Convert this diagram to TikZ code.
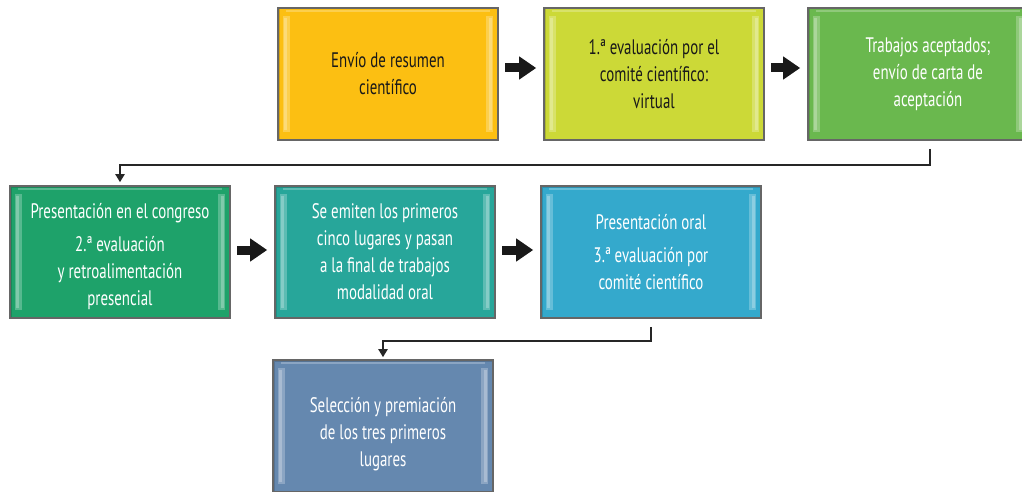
\documentclass[tikz,border=0pt]{standalone}
\usepackage{fontspec}
\setmainfont{PT Sans}[FakeStretch=0.71]
\usepackage{tikz}
\usetikzlibrary{arrows.meta}
\definecolor{amber}{HTML}{FCBF12}
\definecolor{lime}{HTML}{CCD937}
\definecolor{leaf}{HTML}{6AB84E}
\definecolor{jade}{HTML}{1EA26A}
\definecolor{teal}{HTML}{27A69A}
\definecolor{sky}{HTML}{34A9CC}
\definecolor{steel}{HTML}{6588AF}
\tikzset{
  stage/.style={draw=black!60, line width=0.8pt, minimum width=110pt, minimum height=66pt,
    inner sep=0pt, align=center, font=\fontsize{10.5}{13.5}\selectfont,
    path picture={
      \fill[white, opacity=0.25] ([xshift=2.5pt,yshift=-4pt]path picture bounding box.north west)
        rectangle ([xshift=6pt,yshift=4pt]path picture bounding box.south west);
      \fill[white, opacity=0.25] ([xshift=3pt,yshift=-5pt]path picture bounding box.north west)
        rectangle ([xshift=4.5pt,yshift=5pt]path picture bounding box.south west);
      \fill[white, opacity=0.25] ([xshift=-2.5pt,yshift=-4pt]path picture bounding box.north east)
        rectangle ([xshift=-6pt,yshift=4pt]path picture bounding box.south east);
      \fill[white, opacity=0.25] ([xshift=-3pt,yshift=-5pt]path picture bounding box.north east)
        rectangle ([xshift=-4.5pt,yshift=5pt]path picture bounding box.south east);
      \draw[white, opacity=0.25, line width=1pt] ([xshift=4pt,yshift=-1.5pt]path picture bounding box.north west)
        -- ([xshift=-4pt,yshift=-1.5pt]path picture bounding box.north east);
      \draw[black, opacity=0.15, line width=1.5pt] (path picture bounding box.south west)
        rectangle (path picture bounding box.north east);
    }},
  bigarrow/.style={line width=4.5pt, black!90, -{Triangle[length=8.5pt,width=11pt]},
    shorten <=3.2pt, shorten >=3.5pt},
  link/.style={line width=1pt, black!85, -{Triangle[length=4pt,width=4.5pt]}}
}
\begin{document}
\begin{tikzpicture}[x=0.5pt, y=-0.5pt]
    \useasboundingbox (0,0) rectangle (1022,492);
    \clip (0,0) rectangle (1022,492);
        \node[stage, fill=amber, text=black!90] (box1) at (388,74) {Envío de resumen\\científico};
        \node[stage, fill=lime, text=black!90] (box2) at (654,74) {1.ª evaluación por el\\comité científico:\\virtual};
        \node[stage, fill=leaf, text=white] (box3) at (918,74) {\hspace*{10pt}Trabajos aceptados;\\\hspace*{10pt}envío de carta de\\\hspace*{10pt}aceptación};
        \node[stage, fill=jade, text=white] (box4) at (120,252) {\rule{0pt}{12pt}Presentación en el congreso\\[3pt]2.ª evaluación\\y retroalimentación\\presencial};
        \node[stage, fill=teal, text=white] (box5) at (385,252) {Se emiten los primeros\\cinco lugares y pasan\\a la final de trabajos\\modalidad oral};
        \node[stage, fill=sky, text=white] (box6) at (651,252) {Presentación oral\\[3pt]3.ª evaluación por\\comité científico};
        \node[stage, fill=steel, text=white] (box7) at (383,426) {\rule{0pt}{16pt}Selección y premiación\\de los tres primeros\\lugares};
        \coordinate (bend1) at (120,165);
        \coordinate (bend2) at (383,341);
        \draw[bigarrow] ([yshift=3pt]box1.east) -- ([yshift=3pt]box2.west);
        \draw[bigarrow] ([yshift=3pt]box2.east) -- ([yshift=3pt]box3.west);
        \draw[bigarrow] ([yshift=1pt]box4.east) -- ([yshift=1pt]box5.west);
        \draw[bigarrow] ([yshift=1pt]box5.east) -- ([yshift=1pt]box6.west);
        \draw[link] ([xshift=6pt,yshift=-4pt]box3.south) |- (bend1) -- ([yshift=1.5pt]box4.north);
        \draw[link] ([yshift=-4pt]box6.south) |- (bend2) -- ([yshift=1pt]box7.north);
    \end{tikzpicture}
\end{document}
